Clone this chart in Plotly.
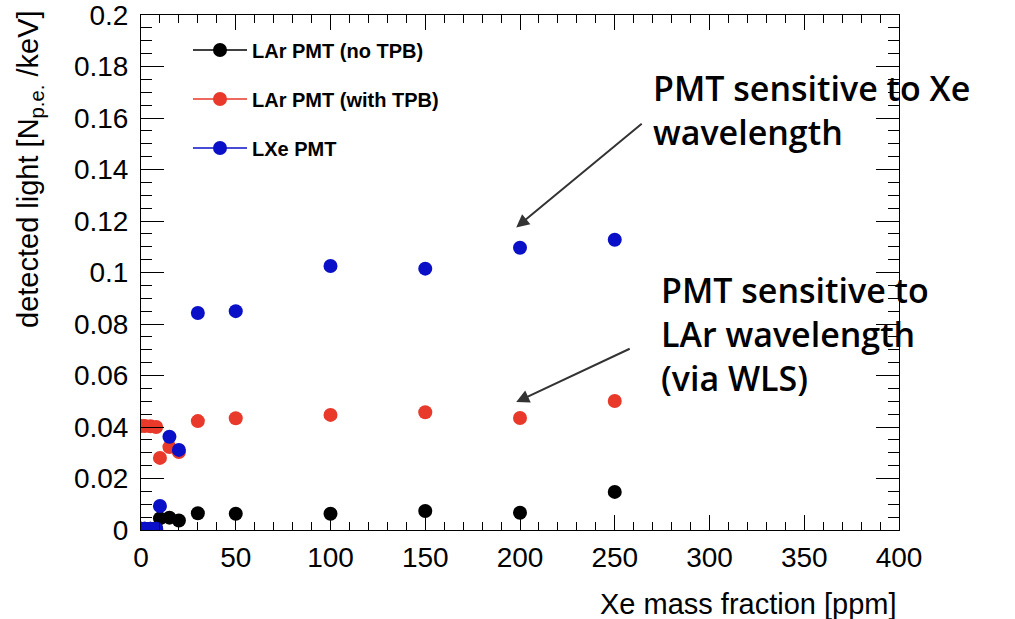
import plotly.graph_objects as go

# ---- data ----
x_black = [0, 2, 5, 8, 10, 15, 20, 30, 50, 100, 150, 200, 250]
y_black = [0.0005, 0.0005, 0.0005, 0.0005, 0.0045, 0.0048, 0.0037, 0.0065, 0.0063, 0.0063, 0.0074, 0.0067, 0.0148]

x_red = [0, 2, 5, 8, 10, 15, 20, 30, 50, 100, 150, 200, 250]
y_red = [0.0404, 0.0404, 0.0403, 0.0400, 0.0280, 0.0322, 0.0303, 0.0423, 0.0434, 0.0447, 0.0457, 0.0435, 0.0501]

x_blue = [0, 2, 5, 8, 10, 15, 20, 30, 50, 100, 150, 200, 250]
y_blue = [0.0005, 0.0005, 0.0005, 0.0005, 0.0093, 0.0362, 0.0311, 0.0843, 0.0850, 0.1025, 0.1015, 0.1096, 0.1127]

names = ["LAr PMT (no TPB)", "LAr PMT (with TPB)", "LXe PMT"]
colors = ["#000000", "#e8392a", "#0a10c8"]

x_range = [0, 400]
y_range = [0, 0.2]

callout_top = ["PMT sensitive to Xe", "wavelength"]
callout_bottom = ["PMT sensitive to", "LAr wavelength", "(via WLS)"]


def split_points(xs, ys):
    """Interleave None so that only markers are drawn, while the legend shows line+marker."""
    xo, yo = [], []
    for a, b in zip(xs, ys):
        xo += [a, None]
        yo += [b, None]
    return xo, yo


fig = go.Figure()
for i, (xs, ys) in enumerate([(x_black, y_black), (x_red, y_red), (x_blue, y_blue)]):
    xo, yo = split_points(xs, ys)
    fig.add_trace(go.Scatter(
        x=xo, y=yo, mode="lines+markers", name=names[i], legendgroup=f"g{i}",
        connectgaps=False,
        marker=dict(color=colors[i], size=14, line=dict(width=0)),
        line=dict(color=colors[i], width=1.5),
    ))

tickfont = dict(family="Liberation Sans, Arial, sans-serif", size=28, color="black")

fig.update_layout(
    width=1015, height=619,
    margin=dict(l=141, r=116, t=15, b=89),
    paper_bgcolor="white", plot_bgcolor="white",
    showlegend=True,
    legend=dict(
        x=0.062, y=0.97, xanchor="left", yanchor="top",
        bgcolor="rgba(0,0,0,0)",
        font=dict(family="Liberation Sans, Arial, sans-serif", size=20, color="black", weight="bold"),
        tracegroupgap=20, itemwidth=54,
    ),
    xaxis=dict(
        range=x_range, showgrid=False, zeroline=False, automargin=False,
        showline=True, linecolor="black", linewidth=1, mirror="ticks",
        ticks="inside", ticklen=15, tickcolor="black", tickwidth=1,
        dtick=50, tick0=0, tickfont=tickfont, ticklabelstandoff=2,
        ticklabeloverflow="allow",
        minor=dict(dtick=10, ticklen=8, ticks="inside", tickcolor="black", showgrid=False),
    ),
    yaxis=dict(
        range=y_range, showgrid=False, zeroline=False, automargin=False,
        showline=True, linecolor="black", linewidth=1, mirror="ticks",
        ticks="inside", ticklen=23, tickcolor="black", tickwidth=1,
        dtick=0.02, tick0=0, tickfont=tickfont, ticklabelstandoff=6,
        ticklabeloverflow="allow",
        minor=dict(dtick=0.005, ticklen=11, ticks="inside", tickcolor="black", showgrid=False),
    ),
)

# axis titles (ROOT style, right/top aligned)
fig.add_annotation(
    text="Xe mass fraction [ppm]", xref="paper", yref="paper",
    x=1.0, y=-0.1437, xanchor="right", yanchor="middle", showarrow=False,
    font=dict(family="Liberation Sans, Arial, sans-serif", size=29, color="black"),
)
fig.add_annotation(
    text="detected light [N<sub>p.e.</sub> /keV]", xref="paper", yref="paper",
    x=(30 - 141) / 758, y=(530 - 169) / 515, xanchor="center", yanchor="middle",
    textangle=-90, showarrow=False,
    font=dict(family="Liberation Sans, Arial, sans-serif", size=29, color="black"),
)

# callout texts
callfont = dict(family="Open Sans, sans-serif", size=34, color="black", weight=600)
fig.add_annotation(
    text="<br>".join(callout_top), xref="paper", yref="paper",
    x=(651 - 141) / 758, y=(530 - 110) / 515, xanchor="left", yanchor="middle",
    align="left", showarrow=False, font=callfont,
)
fig.add_annotation(
    text="<br>".join(callout_bottom), xref="paper", yref="paper",
    x=(659 - 141) / 758, y=(530 - 334) / 515, xanchor="left", yanchor="middle",
    align="left", showarrow=False, font=callfont,
)

# arrows
fig.add_annotation(
    x=198, y=0.1175, xref="x", yref="y", text="", showarrow=True,
    ax=127, ay=-105, axref="pixel", ayref="pixel",
    arrowhead=2, arrowsize=1.3, arrowwidth=2, arrowcolor="#333333",
)
fig.add_annotation(
    x=198, y=0.0497, xref="x", yref="y", text="", showarrow=True,
    ax=115, ay=-54, axref="pixel", ayref="pixel",
    arrowhead=2, arrowsize=1.3, arrowwidth=2, arrowcolor="#333333",
)

fig.write_html("out.html")
